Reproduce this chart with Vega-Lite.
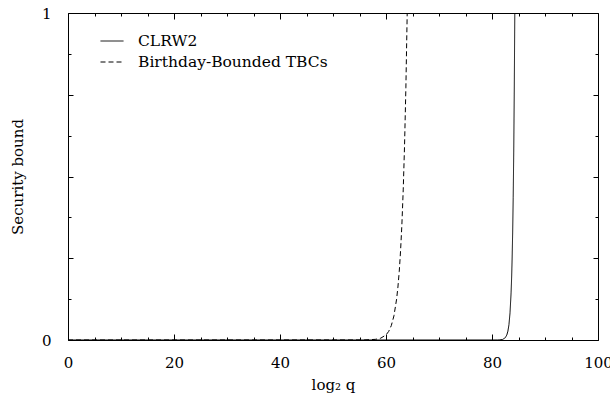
{
  "$schema": "https://vega.github.io/schema/vega-lite/v6.json",
  "width": 530,
  "height": 327,
  "autosize": "none",
  "padding": {"left": 68, "top": 13, "right": 12, "bottom": 62},
  "config": {
    "view": {"stroke": "black", "strokeWidth": 1},
    "font": "DejaVu Serif",
    "axis": {"grid": false, "domain": false, "labelColor": "black", "tickColor": "black", "tickWidth": 1, "labelFont": "DejaVu Serif", "titleFont": "DejaVu Serif", "titleFontWeight": "normal", "titleColor": "black"},
    "legend": {"labelFont": "DejaVu Serif"}
  },
  "data": {"values": [
    {"x": 0, "y": 0, "series": "CLRW2"},
    {"x": 80, "y": 0, "series": "CLRW2"},
    {"x": 81, "y": 0.0001, "series": "CLRW2"},
    {"x": 81.5, "y": 0.0004, "series": "CLRW2"},
    {"x": 82, "y": 0.0017, "series": "CLRW2"},
    {"x": 82.5, "y": 0.0068, "series": "CLRW2"},
    {"x": 82.8, "y": 0.0156, "series": "CLRW2"},
    {"x": 83, "y": 0.027, "series": "CLRW2"},
    {"x": 83.2, "y": 0.047, "series": "CLRW2"},
    {"x": 83.4, "y": 0.083, "series": "CLRW2"},
    {"x": 83.6, "y": 0.144, "series": "CLRW2"},
    {"x": 83.7, "y": 0.189, "series": "CLRW2"},
    {"x": 83.8, "y": 0.25, "series": "CLRW2"},
    {"x": 83.9, "y": 0.33, "series": "CLRW2"},
    {"x": 84, "y": 0.435, "series": "CLRW2"},
    {"x": 84.1, "y": 0.574, "series": "CLRW2"},
    {"x": 84.2, "y": 0.758, "series": "CLRW2"},
    {"x": 84.3, "y": 1, "series": "CLRW2"},
    {"x": 100, "y": 1, "series": "CLRW2"},
    {"x": 0, "y": 0, "series": "Birthday-Bounded TBCs"},
    {"x": 56, "y": 0.0002, "series": "Birthday-Bounded TBCs"},
    {"x": 58, "y": 0.002, "series": "Birthday-Bounded TBCs"},
    {"x": 59, "y": 0.0055, "series": "Birthday-Bounded TBCs"},
    {"x": 60, "y": 0.0156, "series": "Birthday-Bounded TBCs"},
    {"x": 60.5, "y": 0.026, "series": "Birthday-Bounded TBCs"},
    {"x": 61, "y": 0.044, "series": "Birthday-Bounded TBCs"},
    {"x": 61.5, "y": 0.074, "series": "Birthday-Bounded TBCs"},
    {"x": 62, "y": 0.125, "series": "Birthday-Bounded TBCs"},
    {"x": 62.25, "y": 0.162, "series": "Birthday-Bounded TBCs"},
    {"x": 62.5, "y": 0.21, "series": "Birthday-Bounded TBCs"},
    {"x": 62.75, "y": 0.273, "series": "Birthday-Bounded TBCs"},
    {"x": 63, "y": 0.354, "series": "Birthday-Bounded TBCs"},
    {"x": 63.25, "y": 0.459, "series": "Birthday-Bounded TBCs"},
    {"x": 63.5, "y": 0.595, "series": "Birthday-Bounded TBCs"},
    {"x": 63.75, "y": 0.771, "series": "Birthday-Bounded TBCs"},
    {"x": 64, "y": 1, "series": "Birthday-Bounded TBCs"},
    {"x": 100, "y": 1, "series": "Birthday-Bounded TBCs"}
  ]},
  "layer": [
    {
      "mark": {"type": "line", "color": "black", "strokeWidth": 1, "clip": true},
      "encoding": {
        "x": {"field": "x", "type": "quantitative", "scale": {"domain": [0, 100], "nice": false},
              "axis": {"orient": "bottom", "values": [0, 20, 40, 60, 80, 100], "format": "d", "ticks": false, "labelFontSize": 15, "labelPadding": 15, "labelFlush": false, "title": "log₂ q", "titleFontSize": 15, "titlePadding": 7}},
        "y": {"field": "y", "type": "quantitative", "scale": {"domain": [0, 1], "nice": false},
              "axis": {"orient": "left", "values": [0, 1], "format": "d", "ticks": false, "labelFontSize": 15, "labelPadding": 17, "labelFlush": false, "title": "Security bound", "titleFontSize": 15, "titlePadding": 16}},
        "strokeDash": {"field": "series", "type": "nominal",
              "scale": {"domain": ["CLRW2", "Birthday-Bounded TBCs"], "range": [[1, 0], [5, 3]]},
              "legend": {"title": null, "orient": "none", "legendX": 32, "legendY": 16, "symbolType": "stroke", "symbolSize": 529, "symbolStrokeColor": "black", "symbolStrokeWidth": 1, "labelFontSize": 15.5, "labelFont": "DejaVu Serif", "labelColor": "black", "labelOffset": 14, "labelLimit": 400, "rowPadding": -3, "padding": 0}}
      }
    },
    {
      "mark": {"type": "point", "opacity": 0},
      "encoding": {
        "x": {"field": "x", "type": "quantitative", "axis": {"orient": "bottom", "values": [0, 20, 40, 60, 80, 100], "labels": false, "tickSize": -6, "title": null}},
        "y": {"field": "y", "type": "quantitative", "axis": {"orient": "left", "values": [0, 0.25, 0.5, 0.75, 1], "labels": false, "tickSize": -5, "title": null}}
      }
    },
    {
      "mark": {"type": "point", "opacity": 0},
      "encoding": {
        "x": {"field": "x", "type": "quantitative", "axis": {"orient": "bottom", "values": [5, 10, 15, 25, 30, 35, 45, 50, 55, 65, 70, 75, 85, 90, 95], "labels": false, "tickSize": -3, "title": null}},
        "y": {"field": "y", "type": "quantitative", "axis": {"orient": "left", "values": [0.125, 0.375, 0.625, 0.875], "labels": false, "tickSize": -3, "title": null}}
      }
    },
    {
      "mark": {"type": "point", "opacity": 0},
      "encoding": {
        "x": {"field": "x", "type": "quantitative", "axis": {"orient": "top", "values": [0, 20, 40, 60, 80, 100], "labels": false, "tickSize": -6, "title": null}},
        "y": {"field": "y", "type": "quantitative", "axis": {"orient": "right", "values": [0, 0.25, 0.5, 0.75, 1], "labels": false, "tickSize": -5, "title": null}}
      }
    },
    {
      "mark": {"type": "point", "opacity": 0},
      "encoding": {
        "x": {"field": "x", "type": "quantitative", "axis": {"orient": "top", "values": [5, 10, 15, 25, 30, 35, 45, 50, 55, 65, 70, 75, 85, 90, 95], "labels": false, "tickSize": -3, "title": null}},
        "y": {"field": "y", "type": "quantitative", "axis": {"orient": "right", "values": [0.125, 0.375, 0.625, 0.875], "labels": false, "tickSize": -3, "title": null}}
      }
    }
  ],
  "resolve": {"axis": {"x": "independent", "y": "independent"}}
}
